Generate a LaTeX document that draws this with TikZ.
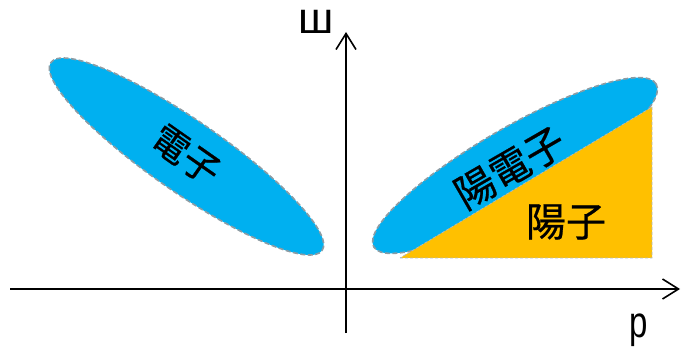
\documentclass[tikz,border=0pt]{standalone}
\usepackage{fontspec}
\setmainfont{Liberation Sans}
\newfontfamily\cjk[FakeBold=0.6]{Noto Sans CJK JP}
\usetikzlibrary{arrows.meta}
\definecolor{eblue}{HTML}{00B0F0}
\definecolor{pyellow}{HTML}{FFC000}
\definecolor{outl}{HTML}{8C9CA4}
\begin{document}
\begin{tikzpicture}[x=1pt,y=1pt,
  blob/.style={fill=eblue,draw=outl,line width=1.6pt,dash pattern=on 5pt off 2.5pt},
  tri/.style={fill=pyellow,draw=outl!70,line width=0.8pt,dash pattern=on 3pt off 2pt},
  axis/.style={line width=1.8pt,-{Straight Barb[length=16pt,width=20pt,line width=1.6pt]}},
  jlab/.style={font=\cjk\fontsize{37}{40}\selectfont,inner sep=0pt},
  llab/.style={font=\fontsize{44}{48}\selectfont,inner sep=0pt}]
\useasboundingbox (0,0) rectangle (682,348);
% axes
\coordinate (xs) at (10,59);
\coordinate (xe) at (680,59);
\coordinate (ys) at (346,15);
\coordinate (ye) at (346,316);
\draw[axis] (xs) -- (xe);
\draw[axis] (ys) -- (ye);
% left ellipse (electron)
\draw[blob,rotate around={-34.7:(186.5,191.5)}] (186.5,191.5) ellipse [x radius=165, y radius=36];
% right ellipse (positron)
\draw[blob,rotate around={30:(515,182.5)}] (515,182.5) ellipse [x radius=163, y radius=38];
% proton triangle
\path[tri] (400,90) coordinate (t1) -- (652,90) coordinate (t2) -- (652,241) coordinate (t3) -- cycle;
% labels
\node[jlab,rotate=-35] (el) at (186,193) {電子};
\node[jlab,rotate=30,font=\cjk\fontsize{40}{44}\selectfont] (po) at (510,180) {陽電子};
\node[jlab,font=\cjk\fontsize{40}{44}\selectfont] (pr) at (566,126) {陽子};
\node[llab] (E) at (316,326) {ш};
\node[llab,xscale=0.75] (p) at (639,18) {p};
\end{tikzpicture}
\end{document}
